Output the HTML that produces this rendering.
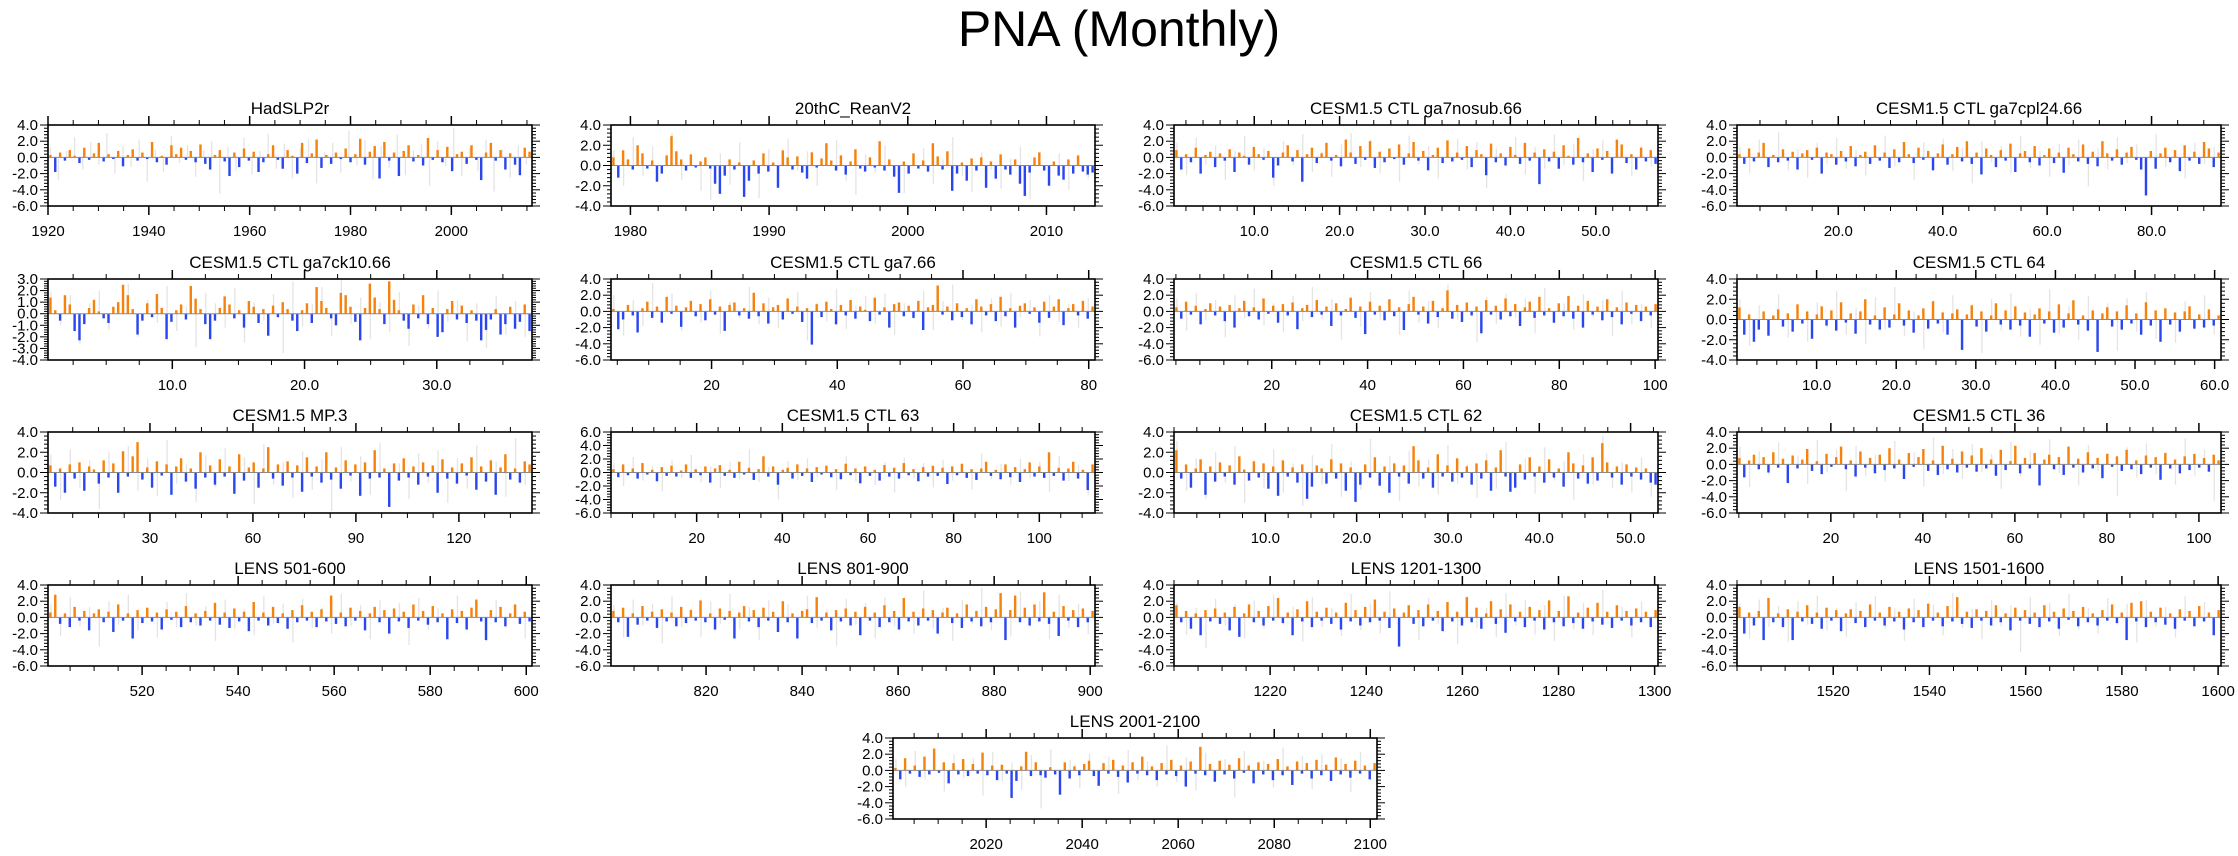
<!DOCTYPE html>
<html><head><meta charset="utf-8"><title>PNA (Monthly)</title>
<style>
html,body{margin:0;padding:0;background:#fff;}
svg{display:block;font-family:"Liberation Sans",Arial,sans-serif;}
</style></head>
<body>
<svg id="chart" width="2238" height="856" viewBox="0 0 2238 856" xmlns="http://www.w3.org/2000/svg">
<rect x="0" y="0" width="2238" height="856" fill="#fff"/>
<text x="1119" y="46" text-anchor="middle" font-size="50" fill="#000">PNA (Monthly)</text>
</svg>
<script>
const hadslp2rBars=[0.3,-1.8,0.6,-0.4,0.9,0.2,-0.7,1.2,-0.3,0.5,1.8,-0.5,0.4,-0.2,0.8,-1.1,0.3,1.0,-0.4,0.6,-0.2,1.9,-0.6,0.2,-0.9,1.5,0.4,1.2,-0.3,0.8,-0.6,1.6,-0.8,-1.5,0.3,0.9,-0.5,-2.3,0.6,-1.2,1.1,-0.4,0.7,-1.8,-0.6,0.4,1.5,-0.3,-1.4,0.9,0.2,-2.0,1.8,-0.7,0.5,2.2,-1.3,0.3,-0.8,0.6,-0.2,1.1,-0.6,0.4,2.3,-0.9,0.7,1.4,-2.6,1.9,-0.4,0.6,-2.3,0.8,1.5,-0.5,0.3,-1.0,2.4,-0.3,0.9,-0.6,1.3,-1.7,0.4,0.7,-0.8,1.5,-0.3,-2.8,0.6,1.8,-0.4,0.9,-1.5,0.5,-0.9,-2.2,1.2,0.7];
const hadslp2rGray=[1.2,-2.8,0.8,2.5,-1.5,1.9,-0.9,3.0,-2.0,1.4,-1.2,2.2,-3.0,1.0,-1.8,2.6,-0.7,1.5,-2.4,0.9,2.0,-4.5,1.3,-1.6,2.4,-2.1,0.8,2.9,-1.4,1.7,-2.6,1.1,2.3,-3.2,0.6,1.8,-1.9,3.3,-1.0,2.1,-2.7,1.4,-1.3,2.8,-2.2,0.9,1.6,-3.5,2.0,-1.1,3.6,-2.3,1.2,-1.7,2.2,-4.2,1.0,-2.5,1.5,-0.9];
const reanBars=[0.8,-1.2,1.5,0.6,-0.4,2.0,1.2,-0.3,0.5,-1.6,-0.8,1.0,2.9,1.4,0.6,-0.5,1.1,-0.2,0.4,0.8,-0.3,-1.8,-2.8,-1.0,0.6,-0.4,0.3,-3.1,-1.5,0.5,-0.8,1.2,-0.6,0.3,-2.2,1.5,0.8,-0.4,0.9,-0.7,-1.3,1.3,-0.2,0.7,2.2,0.5,-0.5,1.0,-0.9,0.4,1.6,-0.3,-0.6,0.8,-0.2,2.4,-0.5,0.6,-1.1,-2.7,0.4,-0.8,1.2,-0.3,0.5,-0.6,2.2,0.9,-0.4,1.4,-2.5,-0.8,0.3,-1.5,0.7,-0.5,0.8,-2.2,0.4,-1.3,1.1,-0.4,-0.9,0.6,-1.8,-3.0,-0.7,0.8,1.3,-0.5,-2.0,0.4,-1.0,-1.4,0.6,-0.8,1.0,-0.6,-0.9,-0.7];
const reanGray=[1.5,-2.0,2.8,-1.0,1.9,-0.6,3.2,-1.4,0.9,-2.5,-3.4,1.2,-1.9,2.3,-0.8,-3.2,1.6,-1.1,2.6,-0.5,1.4,-2.0,0.8,2.5,-1.5,-2.9,1.1,-0.7,2.0,-1.2,-2.7,0.9,1.7,-1.8,0.6,2.8,-1.0,-2.6,1.3,-0.4,-2.3,0.7,1.9,-3.3,0.5,-1.6,1.2,-2.4,0.8,-1.3];
const nosubBars=[0.9,-1.5,0.4,-0.6,1.2,-2.0,0.3,0.7,-1.2,0.5,-0.4,1.0,-1.8,0.6,0.2,-0.9,1.3,0.4,-0.3,0.8,-2.5,-1.0,0.6,1.5,-0.5,0.9,-3.0,0.4,1.2,-0.7,0.5,1.8,-0.4,0.3,-1.1,2.2,0.6,-0.8,1.4,-0.3,2.0,-1.3,0.7,-0.6,1.1,-0.2,1.6,-0.9,0.5,1.9,-0.4,0.8,-1.6,0.3,1.2,-0.7,2.1,-0.5,0.6,-0.3,1.4,-1.2,0.9,0.4,-2.2,1.7,-0.6,0.5,-1.0,1.3,0.3,-0.8,1.8,-0.4,0.6,-3.3,1.0,-0.5,0.7,-1.4,1.5,0.2,-0.9,2.4,-0.6,0.5,-1.8,1.1,-0.3,0.8,-2.0,2.2,1.6,-0.7,0.4,-1.5,1.2,-0.5,0.9,-0.8];
const nosubGray=[1.8,-2.2,2.4,-0.9,1.5,-2.8,0.8,2.6,-1.6,1.2,-3.5,2.0,-1.0,2.9,-1.8,0.7,-2.4,1.6,3.0,-1.2,2.2,-2.0,1.0,-3.0,2.7,-0.8,1.4,-2.6,0.9,2.3,-1.5,1.9,-3.8,1.1,-0.7,2.5,-2.1,1.3,-1.4,2.8,-0.9,1.7,-2.9,1.0,2.1,-1.7,0.6,-2.3,1.5,-1.1];
const cpl24Bars=[0.4,-0.8,1.1,-0.5,0.6,1.8,-1.2,0.3,-0.6,1.0,-0.4,0.7,-1.5,0.5,0.9,-0.3,1.2,-2.0,0.6,0.4,-0.9,0.8,-0.5,1.4,-1.1,0.3,0.7,-0.8,1.5,-0.4,0.6,-1.3,1.0,-0.6,1.9,0.4,-0.7,1.2,-0.3,0.8,-1.6,0.5,1.6,-0.9,0.4,1.3,-0.5,2.0,-0.8,0.6,-2.1,1.1,0.3,-1.2,0.9,-0.4,1.7,-1.8,0.5,0.8,-0.6,1.4,-1.0,0.3,1.1,-0.7,0.6,-1.9,1.2,0.4,-0.5,1.6,-0.8,0.7,-1.1,2.0,0.5,-0.4,1.0,-0.9,0.6,1.3,-0.3,-1.5,-4.7,0.8,-1.4,0.5,1.2,-0.6,0.9,-1.7,1.5,-0.4,0.7,-0.8,1.9,1.1,-1.2,0.6];
const cpl24Gray=[1.3,-1.9,2.2,-1.0,3.1,-1.6,1.0,-2.5,1.8,-0.8,2.4,-1.4,0.9,-2.2,1.5,2.7,-1.1,0.6,-2.8,1.9,-0.9,2.3,-1.7,1.2,-3.2,2.0,-0.6,1.4,-2.0,2.6,-1.3,0.8,-2.4,1.7,-1.0,2.2,-3.6,1.1,-1.5,2.5,-0.7,1.6,-2.1,2.9,-1.2,0.9,-2.6,1.8,-0.8,1.3];
const ck10Bars=[1.4,0.3,-0.6,1.6,0.8,-1.5,-2.3,-0.9,0.5,1.2,0.2,-0.4,-0.8,0.6,1.0,2.5,1.6,0.4,-1.8,-0.6,0.9,-0.3,1.7,0.5,-2.2,-0.7,0.3,0.8,-0.5,2.4,1.3,0.4,-0.9,-2.2,-0.6,0.5,1.5,0.8,-0.4,0.3,-1.2,1.1,0.6,-0.8,0.4,-1.9,0.7,-0.3,1.0,0.4,-0.6,-1.5,0.3,0.9,-0.8,2.3,1.1,0.5,-0.4,-1.0,1.8,1.6,0.6,-0.7,-2.3,0.5,2.6,1.4,0.4,-0.9,2.8,1.2,0.3,-0.6,-1.3,0.8,-0.4,1.6,-0.9,0.5,-2.0,-1.6,0.4,1.1,-0.5,0.7,-0.8,0.3,-0.6,-2.3,-1.4,-0.5,0.4,-1.8,-0.9,0.6,-1.3,-0.7,0.8,-1.5];
const ck10Gray=[1.9,-1.0,1.6,-2.6,0.9,2.0,-1.4,0.7,2.6,-2.0,1.2,-0.8,2.4,-1.5,0.6,-2.9,1.8,0.9,-1.2,2.2,-2.5,1.0,-0.6,1.7,-3.4,2.8,-1.1,0.8,2.3,-1.9,2.9,-0.9,1.4,-2.2,1.0,-1.6,1.9,-2.8,0.7,-1.3,2.0,-0.7,1.2,-2.4,0.9,-3.0,1.5,-1.8,1.1,-2.0];
const ga7Bars=[0.3,-2.2,-1.0,0.8,-0.5,-2.6,0.4,1.2,-0.8,0.6,-1.4,1.8,-0.3,0.7,-1.9,0.5,1.3,-0.6,0.9,-1.1,1.5,-0.4,0.6,-2.4,0.8,1.1,-0.5,0.4,-0.9,2.3,-0.6,1.0,-1.5,0.5,0.8,-1.0,1.6,-0.3,0.6,-1.3,0.4,-4.1,0.9,-0.7,1.2,0.3,-1.6,0.8,-0.5,1.4,-0.9,0.6,0.2,-1.2,1.7,-0.4,0.5,-2.0,0.9,1.1,-0.6,0.7,-0.8,1.3,-2.3,0.5,0.8,3.2,-0.4,0.6,-1.1,1.0,-0.7,0.4,-1.6,1.5,0.6,-0.5,0.9,-1.2,1.8,-0.6,0.4,-2.0,0.7,1.0,-0.3,0.5,-1.4,1.2,-0.8,0.6,1.5,-1.7,0.4,0.9,-0.5,1.3,-0.9,0.6];
const ga7Gray=[2.0,-3.0,1.4,-1.8,3.5,-1.0,2.2,-2.4,0.9,-1.4,2.6,-2.8,1.2,-0.8,3.0,-1.6,1.7,-2.1,0.8,2.4,-3.6,1.1,-1.2,2.8,-2.2,0.7,1.9,-1.5,2.2,-2.9,1.0,-0.9,2.5,-2.3,1.3,3.3,-1.1,0.8,-2.6,1.6,-1.9,2.3,-0.7,1.4,-3.1,2.0,-1.3,0.9,-2.0,1.7];
const ctl66Bars=[0.5,-0.9,1.2,-0.4,0.7,-1.6,0.3,1.0,-0.5,0.6,-1.2,0.8,-2.0,0.4,1.3,-0.6,0.5,-1.0,1.6,-0.3,0.7,-1.4,0.9,-0.5,1.1,-2.2,0.4,0.8,-0.7,1.4,-0.4,0.6,-1.8,1.0,-0.5,0.3,1.7,-0.8,0.6,-2.8,1.2,-0.4,0.7,-1.1,1.5,-0.6,0.5,-2.3,0.9,1.8,-0.4,0.6,-1.5,1.3,-0.7,0.4,2.6,-0.9,0.8,-1.3,1.1,-0.5,0.6,-2.7,1.4,-0.4,0.7,-1.0,1.6,-0.6,0.9,-1.8,0.5,1.2,-0.8,1.8,-0.5,0.4,-1.4,1.0,-0.6,1.9,-0.9,0.7,-2.0,1.3,-0.4,0.6,-1.1,1.5,-0.7,0.5,-1.6,1.1,-0.3,0.8,-1.2,0.6,-0.5,0.9];
const ctl66Gray=[1.6,-2.4,2.3,-1.1,1.4,-3.2,2.0,-0.8,2.8,-1.7,1.0,-2.6,1.9,-1.2,3.0,-0.9,1.5,-3.5,1.1,-1.9,2.4,-1.0,0.8,-2.9,2.6,-1.4,1.3,-2.1,3.3,-1.0,0.7,-3.8,1.8,-1.5,2.2,-0.8,1.6,-2.7,2.9,-1.3,1.0,-2.3,2.1,-0.7,1.4,-3.0,2.5,-1.6,0.9,-2.0];
const ctl64Bars=[1.2,-1.5,0.5,-2.2,-1.0,0.8,-1.6,0.4,1.0,-0.7,0.6,-1.2,1.5,-0.4,0.8,-1.9,0.5,1.3,-0.6,0.9,-1.1,1.7,-0.3,0.6,-1.4,0.8,2.0,-0.5,0.4,-1.0,1.2,-0.8,0.5,1.6,-0.6,0.9,-1.3,0.4,1.1,-0.9,1.8,-0.4,0.7,-1.5,0.6,1.0,-3.0,0.5,1.4,-0.7,0.8,-1.2,0.4,1.6,-0.5,0.9,-1.0,1.3,-0.6,0.7,-1.7,0.5,1.1,-0.4,0.8,-1.3,1.5,-0.8,0.6,1.9,-0.5,0.4,-1.1,0.9,-3.2,0.6,1.2,-0.7,0.8,-1.0,1.4,-0.4,0.6,-1.5,1.7,-0.6,0.9,-2.2,1.1,-0.5,0.7,-1.2,0.8,1.3,-0.9,0.5,-0.8,1.0,-0.6,0.4];
const ctl64Gray=[2.0,-2.6,1.4,-1.2,2.5,-1.8,0.9,-2.2,1.7,-0.8,2.8,-1.5,1.2,-2.4,2.2,-1.0,3.2,-1.6,0.8,-2.9,1.9,-1.3,2.4,-0.9,1.5,-3.3,2.0,-1.1,2.6,-1.7,1.0,-2.5,3.0,-1.4,1.3,-2.0,2.3,-0.8,1.6,-3.1,2.1,-1.2,2.7,-1.9,1.1,-2.3,1.8,-1.0,2.4,-1.5];
const mp3Bars=[0.7,-1.4,0.4,-2.0,0.8,-0.6,1.0,-1.8,0.6,0.3,-1.1,1.2,-0.5,0.9,-2.0,2.1,-0.4,1.6,3.0,-0.7,0.5,-1.5,1.1,-0.3,0.8,-2.2,0.6,1.4,-0.9,0.4,-1.6,2.0,-0.5,0.7,-1.2,1.3,-0.4,0.6,-2.1,1.8,-0.8,0.5,1.0,-1.5,0.4,2.5,-0.6,0.8,-1.3,1.1,-0.5,0.7,-1.9,1.5,-0.4,0.6,-1.0,2.0,-0.7,0.5,-1.6,1.2,-0.3,0.8,-2.3,1.0,-0.6,2.2,-0.5,0.4,-3.4,0.9,-0.8,1.4,-0.5,0.6,-1.2,1.0,-0.4,0.7,-2.0,1.3,-0.6,0.5,-1.1,0.9,-0.3,1.5,-1.7,0.6,-0.9,1.2,-2.2,0.5,1.8,-0.7,0.4,-1.0,1.1,0.8];
const mp3Gray=[1.8,-2.7,2.3,-1.5,1.2,-3.6,2.0,-0.9,2.6,-1.8,1.4,-2.3,3.2,-1.1,0.8,-2.9,1.7,-1.4,2.4,-0.8,1.5,-3.1,2.8,-1.2,1.0,-2.5,2.1,-1.7,1.3,-3.8,2.5,-0.9,1.6,-2.2,2.9,-1.3,0.9,-2.6,1.9,-1.0,2.2,-3.0,1.4,-1.6,2.7,-0.8,1.1,-2.4,3.4,-1.2];
const ctl63Bars=[0.5,-0.7,1.2,-0.4,0.6,-0.9,1.4,-0.3,0.4,-1.3,0.8,-0.5,1.0,-0.6,0.3,1.2,-0.8,0.5,-0.4,0.9,-1.5,0.6,1.1,-0.5,0.4,-0.8,1.6,-0.3,0.7,-1.1,0.5,2.4,-0.6,0.9,-1.8,0.4,0.7,-0.9,1.2,-0.5,0.6,-1.4,0.8,-0.3,1.0,-0.7,0.5,-1.0,1.3,-0.4,0.6,-1.6,0.9,-0.5,0.4,-1.2,1.1,-0.6,0.7,-0.9,1.4,-0.4,0.5,-1.3,0.8,-0.6,1.0,-0.5,0.7,-1.7,0.9,-0.4,1.3,-0.8,0.5,-1.1,0.6,1.6,-0.5,0.4,-1.0,1.2,-0.7,0.8,-1.4,0.5,1.5,-0.6,0.9,-0.8,3.0,-0.5,0.7,-1.2,0.6,1.6,-0.9,0.4,-2.6,1.2];
const ctl63Gray=[1.5,-2.0,2.3,-1.2,1.0,-2.8,1.8,-0.8,2.6,-1.5,0.9,-2.3,1.6,-1.0,3.5,-1.4,0.8,-4.0,1.7,-1.1,2.1,-0.7,1.2,-2.6,2.4,-1.3,0.9,-1.9,1.5,-3.0,2.2,-0.9,1.4,-2.2,1.9,-1.2,0.7,-2.5,2.8,-1.0,1.3,-1.8,2.0,-0.8,1.6,-2.9,2.5,-1.3,1.1,-3.3];
const ctl62Bars=[2.2,-0.6,0.8,-1.5,0.4,1.3,-2.2,0.6,-0.9,1.0,-0.4,0.7,-1.2,1.6,0.3,-0.8,1.1,-0.5,0.9,-1.6,0.6,-2.3,1.2,-0.4,0.5,-1.0,0.8,-2.6,-1.4,0.7,0.4,-1.1,1.3,-0.6,0.9,-1.8,0.5,-2.9,-1.2,0.8,-0.5,1.5,-1.3,0.6,-2.0,0.9,-0.4,0.7,-1.1,2.6,1.2,-0.6,0.5,-1.5,1.8,-0.4,0.7,-0.9,1.4,-0.5,0.6,-1.2,0.9,-0.6,1.2,-1.8,0.5,2.2,-0.4,-1.9,-1.5,0.8,-0.7,1.5,-0.4,0.6,-1.0,1.3,-0.5,0.4,-1.4,2.0,0.9,-0.6,0.7,-1.1,1.5,-0.8,2.9,1.0,-0.5,0.6,-1.2,0.8,-0.4,0.5,-0.7,0.4,-1.0,-1.2];
const ctl62Gray=[3.1,-1.8,1.4,-2.6,2.0,-1.0,2.6,-3.0,1.2,-1.5,2.3,-2.0,0.9,-3.3,1.7,-1.2,2.8,-2.4,1.1,-1.7,3.3,-0.9,1.6,-2.8,2.1,-1.4,1.3,-2.2,2.7,-1.1,0.8,-2.5,1.9,-1.6,3.0,-1.3,1.4,-2.1,2.5,-0.8,1.1,-2.7,1.8,-1.2,3.6,-1.5,1.0,-2.0,1.5,-2.4];
const ctl36Bars=[0.8,-1.6,0.5,1.2,-0.6,0.9,-1.0,1.5,-0.4,0.7,-2.3,1.1,-0.5,0.6,1.9,-0.8,0.4,-1.2,1.3,-0.3,0.9,2.2,-0.6,0.5,-1.5,1.6,-0.4,0.8,-1.1,1.2,-0.7,2.0,-0.5,0.6,-1.8,1.4,-0.3,0.9,1.9,-0.8,0.5,-1.3,2.3,-0.6,0.7,-1.0,1.6,-0.4,1.1,-0.9,2.0,-0.5,0.6,-1.4,1.8,-0.7,0.4,2.3,-1.1,0.8,-0.5,1.4,-2.6,0.6,1.2,-0.6,0.9,-1.3,2.2,-0.4,0.7,-1.0,1.5,-0.5,0.8,-1.7,1.3,-0.3,1.0,-0.8,1.8,-0.6,0.5,-1.2,1.1,-0.4,0.9,-1.9,1.4,-0.5,0.6,-1.1,1.0,-0.7,1.3,-0.4,0.8,-0.9,1.2,0.5];
const ctl36Gray=[2.2,-2.8,1.6,-1.3,2.7,-1.9,1.1,-2.4,3.0,-1.0,1.8,-3.3,2.3,-1.4,1.2,-2.1,2.9,-0.9,1.5,-2.7,3.4,-1.2,1.9,-1.8,2.5,-1.0,1.3,-3.0,2.8,-1.5,1.7,-2.3,3.1,-1.1,2.0,-2.6,2.4,-0.8,1.4,-3.9,2.1,-1.6,2.6,-1.2,1.5,-2.5,3.2,-1.4,1.8,-4.5];
const lens501Bars=[0.6,2.8,-0.8,0.5,-1.2,1.3,-0.4,0.8,-1.6,0.5,1.0,-0.6,0.7,-1.8,1.6,-0.4,0.5,-2.6,0.9,-0.7,1.2,-0.5,0.6,-1.5,1.0,-0.3,0.7,-1.2,1.4,-0.6,0.5,-1.0,0.8,-0.4,1.8,-0.9,0.6,-1.3,1.1,-0.5,0.7,-1.7,1.9,-0.4,0.6,-1.0,1.3,-0.7,0.5,-1.4,0.9,-0.6,1.5,-0.4,0.7,-1.2,1.0,-0.5,2.7,-0.8,0.6,-1.1,1.2,-0.4,0.8,-1.6,0.5,1.3,-0.6,0.9,-2.0,1.1,-0.5,0.7,-1.3,1.6,-0.4,0.8,-0.9,1.4,-0.6,0.5,-2.7,1.0,-0.7,0.8,-1.5,1.2,2.2,-0.5,-2.8,0.9,-0.6,1.3,-1.1,0.5,1.6,-0.8,0.7,-0.5];
const lens501Gray=[1.6,-2.3,2.5,-1.1,1.3,-3.6,2.0,-0.9,2.8,-1.6,1.1,-2.5,1.9,-1.2,3.0,-1.0,1.4,-2.9,2.2,-1.4,1.0,-2.2,2.6,-0.8,1.7,-3.1,2.3,-1.3,1.2,-2.0,2.9,-1.1,1.5,-2.7,2.1,-0.9,1.8,-3.4,2.4,-1.5,1.1,-2.1,2.7,-1.0,1.6,-3.0,2.2,-1.2,1.4,-2.6];
const lens801Bars=[0.8,-0.6,1.2,-2.4,0.5,-0.9,1.4,-0.4,0.7,-1.3,1.0,-0.5,0.6,-1.1,1.3,-0.7,0.9,-0.4,2.1,-0.6,0.5,-1.5,1.1,-0.3,0.8,-2.6,0.6,1.4,-0.5,0.9,-1.2,1.2,-0.4,0.7,-1.8,2.0,-0.6,0.5,-2.6,0.8,1.0,-0.7,2.5,-0.4,0.6,-1.6,0.9,-0.5,1.1,-1.0,0.7,-2.2,1.3,-0.4,0.6,-1.2,1.5,-0.6,0.8,-1.5,2.4,-0.5,0.7,-1.0,1.1,-0.4,0.9,-2.0,0.6,1.2,-0.7,0.5,-1.3,1.6,-0.5,0.8,-1.1,1.3,-0.6,1.0,3.0,-2.8,0.9,2.7,-0.6,1.2,-1.0,1.6,-0.5,3.1,-0.8,0.7,-2.3,1.4,-0.4,0.9,-1.2,1.1,-0.6,0.8];
const lens801Gray=[1.5,-2.5,2.2,-1.0,1.7,-3.2,2.6,-1.2,1.1,-2.4,2.0,-0.8,2.9,-1.5,1.3,-2.8,2.1,-1.0,1.6,-2.2,2.7,-1.3,1.0,-3.5,2.3,-0.9,1.8,-2.6,2.5,-1.1,1.4,-2.0,3.3,-1.4,1.2,-2.9,2.2,-0.8,3.6,-1.6,1.5,-2.3,3.2,-1.1,2.0,-2.7,2.8,-1.3,1.7,-2.1];
const lens1201Bars=[1.5,-0.6,0.8,-1.4,0.5,-2.2,0.9,-0.5,1.1,-0.8,0.6,-1.6,1.3,-2.4,0.5,1.6,-0.6,0.8,-1.0,1.4,-0.4,2.4,-0.7,0.6,-2.2,1.0,-0.5,2.0,-1.2,0.7,-0.4,1.2,-0.8,0.6,-1.5,1.8,-0.5,0.9,-1.0,1.3,-0.6,2.2,-0.4,0.7,-1.3,1.1,-3.6,0.6,1.5,-0.8,0.9,-1.1,1.6,-0.4,0.8,-1.7,1.9,-0.5,0.7,-1.0,2.5,-0.6,1.2,-1.4,0.5,2.0,-0.8,1.0,-1.9,1.6,-0.5,0.7,-1.2,1.3,-0.4,0.9,-1.5,2.1,-0.6,0.8,-1.1,2.6,-0.7,0.6,-1.4,1.2,-0.5,1.8,-0.9,0.7,-1.3,1.5,-0.4,0.8,-1.0,1.1,-0.6,0.7,-1.2,0.9];
const lens1201Gray=[1.8,-2.2,1.2,-3.8,2.3,-1.0,1.6,-2.6,2.1,-1.4,2.8,-0.9,1.3,-3.0,2.5,-1.2,1.1,-2.3,2.9,-1.6,1.7,-2.0,3.2,-1.1,1.4,-2.8,2.4,-0.8,1.9,-3.3,2.6,-1.3,1.2,-2.4,3.0,-1.0,2.2,-2.1,1.5,-2.9,2.7,-1.5,1.8,-2.2,3.4,-1.2,1.3,-2.5,2.0,-1.0];
const lens1501Bars=[1.3,-2.0,0.6,-1.0,0.8,-2.8,2.4,-0.6,0.5,-1.2,1.0,-2.8,0.7,-0.5,1.5,-0.8,0.6,-1.4,1.2,-0.4,0.9,-1.7,0.5,1.0,-0.7,0.8,-1.2,1.6,-0.4,0.6,-1.0,1.3,-0.5,0.7,-1.5,1.1,-0.6,0.9,-1.2,1.7,-0.4,0.6,-1.1,1.4,-0.5,2.5,-0.8,0.7,-1.3,1.0,-0.4,0.8,-1.0,1.5,-0.6,0.5,-1.6,1.2,-0.4,0.9,-0.8,0.6,-1.2,1.5,-0.5,0.7,-1.4,1.1,-0.3,0.8,-1.1,1.3,-0.6,0.5,-1.0,0.9,-0.4,1.6,-0.7,0.6,-2.8,1.8,-0.5,2.0,-1.2,0.7,-0.6,1.2,-0.9,0.5,-1.4,1.0,-0.4,0.8,-1.1,1.4,-0.5,0.6,-2.2,0.9];
const lens1501Gray=[1.7,-2.6,2.2,-1.2,1.4,-3.0,2.0,-0.9,2.7,-1.6,1.2,-2.4,1.9,-1.0,2.6,-1.4,1.1,-2.9,2.3,-0.8,1.6,-2.2,3.0,-1.3,1.0,-2.7,2.1,-1.1,1.5,-4.3,2.5,-1.0,1.8,-2.3,2.9,-1.5,1.2,-2.0,2.4,-0.9,1.7,-3.1,2.2,-1.2,1.3,-2.5,2.6,-1.0,1.9,-2.2];
const lens2001Bars=[0.3,-1.1,1.5,-0.4,0.6,-0.8,1.7,-0.5,2.7,-0.3,1.0,-1.6,0.9,-0.5,1.4,-0.7,0.8,-0.4,2.2,-0.6,0.6,-1.2,0.7,-0.4,-3.4,-1.3,0.5,2.3,-0.7,1.0,-0.6,-0.9,0.4,-0.5,-3.0,1.0,-1.0,0.5,-0.6,0.8,1.2,-0.7,-1.9,0.9,-0.4,1.3,-0.8,0.6,-1.5,1.0,-0.4,1.7,-0.6,0.5,-1.2,0.9,-0.5,1.3,-0.7,0.6,-2.0,1.1,-0.4,2.9,-0.6,0.8,-1.4,1.2,-0.5,0.7,-1.0,1.5,-0.3,0.6,-1.6,1.0,-0.5,0.8,-1.2,1.4,-0.6,0.5,-1.8,1.1,-0.4,0.9,-1.0,1.3,-0.6,0.7,-1.3,1.6,-0.5,0.8,-0.9,1.2,-0.4,0.6,-1.1,0.9];
const lens2001Gray=[1.4,-2.0,2.4,-1.1,1.8,-2.6,2.0,-0.9,1.5,-3.1,2.3,-1.3,1.0,-2.4,1.9,-4.7,2.6,-1.0,1.3,-2.2,2.1,-0.8,1.7,-2.9,2.5,-1.2,1.1,-2.0,3.1,-1.4,1.6,-2.5,2.2,-0.9,1.4,-3.3,2.4,-1.1,1.2,-2.1,2.8,-1.5,1.8,-2.3,2.0,-1.0,1.5,-2.7,2.3,-1.2];

const panelTitles=["HadSLP2r","20thC_ReanV2","CESM1.5 CTL ga7nosub.66","CESM1.5 CTL ga7cpl24.66","CESM1.5 CTL ga7ck10.66","CESM1.5 CTL ga7.66","CESM1.5 CTL 66","CESM1.5 CTL 64","CESM1.5 MP.3","CESM1.5 CTL 63","CESM1.5 CTL 62","CESM1.5 CTL 36","LENS 501-600","LENS 801-900","LENS 1201-1300","LENS 1501-1600","LENS 2001-2100"];
const panelBars=[hadslp2rBars,reanBars,nosubBars,cpl24Bars,ck10Bars,ga7Bars,ctl66Bars,ctl64Bars,mp3Bars,ctl63Bars,ctl62Bars,ctl36Bars,lens501Bars,lens801Bars,lens1201Bars,lens1501Bars,lens2001Bars];
const panelGray=[hadslp2rGray,reanGray,nosubGray,cpl24Gray,ck10Gray,ga7Gray,ctl66Gray,ctl64Gray,mp3Gray,ctl63Gray,ctl62Gray,ctl36Gray,lens501Gray,lens801Gray,lens1201Gray,lens1501Gray,lens2001Gray];
// y ranges [max, min, step]
const yRanges=[[4,-6,2],[4,-4,2],[4,-6,2],[4,-6,2],[3,-4,1],[4,-6,2],[4,-6,2],[4,-4,2],[4,-4,2],[6,-6,2],[4,-4,2],[4,-6,2],[4,-6,2],[4,-6,2],[4,-6,2],[4,-6,2],[4,-6,2]];
// x domain [min,max]
const xDomains=[[1920,2016],[1978.6,2013.5],[0.6,57.3],[0.6,93.3],[0.6,37.2],[4,81],[-0.4,100.6],[0,60.8],[0.3,141.3],[0,113],[0,53],[-0.4,104.8],[500.4,601.2],[800.2,901],[1200,1300.7],[1500,1600.6],[2000.6,2101.4]];
const xTickVals=[[1920,1940,1960,1980,2000],[1980,1990,2000,2010],[10,20,30,40,50],[20,40,60,80],[10,20,30],[20,40,60,80],[20,40,60,80,100],[10,20,30,40,50,60],[30,60,90,120],[20,40,60,80,100],[10,20,30,40,50],[20,40,60,80,100],[520,540,560,580,600],[820,840,860,880,900],[1220,1240,1260,1280,1300],[1520,1540,1560,1580,1600],[2020,2040,2060,2080,2100]];
const xMinorSteps=[5,2,2,5,2.5,5,5,2.5,7.5,5,2.5,5,5,5,5,5,5];
const xDecimals=[0,0,1,1,1,0,0,1,0,0,1,0,0,0,0,0,0];

const NS="http://www.w3.org/2000/svg";
const svg=document.getElementById('chart');
const PW=484,PH=81;
const colLeft=[48,611,1174,1737];
const rowTop=[125,279,432,585,738];
function mk(tag,attrs,parent){const e=document.createElementNS(NS,tag);for(const k in attrs)e.setAttribute(k,attrs[k]);parent.appendChild(e);return e;}

panelTitles.forEach((title,p)=>{
  const left = p<16 ? colLeft[p%4] : 893;
  const top = p<16 ? rowTop[Math.floor(p/4)] : rowTop[4];
  const [yMax,yMin,yStep]=yRanges[p];
  const [xMin,xMax]=xDomains[p];
  const ys=v=>top+(yMax-v)/(yMax-yMin)*PH;
  const xs=v=>left+(v-xMin)/(xMax-xMin)*PW;
  const g=mk('g',{},svg);
  
  
  const t=mk('text',{x:left+PW/2,y:top-11,'text-anchor':'middle','font-size':17,fill:'#000'},g);
  t.textContent=title;
  
  
  const clip=mk('g',{},g);
  
  
  const y0=ys(0);
  // gray series
  const gr=panelGray[p];
  gr.forEach((v,i)=>{
    const x=xs(xMin+(i+0.3)/gr.length*(xMax-xMin));
    const l=mk('line',{x1:x,x2:x,y1:y0,y2:ys(Math.max(yMin,Math.min(yMax,v))),stroke:'#e4e4e4','stroke-width':1.3},clip);
    
    
  });
  // colored bars
  const bars=panelBars[p];
  const bw=Math.max(1.5,PW/bars.length*0.5);
  bars.forEach((v,i)=>{
    const xc=xs(xMin+(i+0.5)/bars.length*(xMax-xMin));
    const yv=ys(v);
    const r=mk('rect',{x:xc-bw/2,y:Math.min(yv,y0),width:bw,height:Math.abs(yv-y0),fill:v>0?'#f5820c':'#2a46ee'},clip);
    
    
  });
  const zl=mk('line',{x1:left,x2:left+PW,y1:y0,y2:y0,stroke:'#8a8a8a','stroke-width':1},g);
  
  
  // frame
  const fr=mk('rect',{x:left,y:top,width:PW,height:PH,fill:'none',stroke:'#000','stroke-width':1.6},g);
  
  
  // y ticks
  const yMinor=yStep/5;
  for(let v=yMin;v<=yMax+1e-6;v+=yMinor){
    const vv=Math.round(v*100)/100;
    const isMajor=Math.abs(vv/yStep-Math.round(vv/yStep))<1e-6;
    const len=isMajor?8:4;
    const y=ys(vv);
    mk('line',{x1:left-len,x2:left,y1:y,y2:y,stroke:'#000','stroke-width':1},g);
    mk('line',{x1:left+PW,x2:left+PW+len,y1:y,y2:y,stroke:'#000','stroke-width':1},g);
    if(isMajor){
      const lb=mk('text',{x:left-10,y:y+5,'text-anchor':'end','font-size':15,fill:'#000'},g);
      lb.textContent=vv.toFixed(1);
      
      
    }
  }
  // x ticks
  const step=xMinorSteps[p];
  const xt=xTickVals[p];
  const start=Math.ceil(xMin/step)*step;
  for(let v=start;v<=xMax+1e-6;v+=step){
    const vv=Math.round(v*100)/100;
    const isMajor=xt.some(m=>Math.abs(m-vv)<1e-6);
    const len=isMajor?9:5;
    const x=xs(vv);
    mk('line',{x1:x,x2:x,y1:top+PH,y2:top+PH+len,stroke:'#000','stroke-width':isMajor?1.5:1},g);
    mk('line',{x1:x,x2:x,y1:top-len,y2:top,stroke:'#000','stroke-width':isMajor?1.5:1},g);
  }
  xt.forEach(v=>{
    const lb=mk('text',{x:xs(v),y:top+PH+30,'text-anchor':'middle','font-size':15,fill:'#000'},g);
    lb.textContent=v.toFixed(xDecimals[p]);
    
    
  });
});
</script>
</body></html>
